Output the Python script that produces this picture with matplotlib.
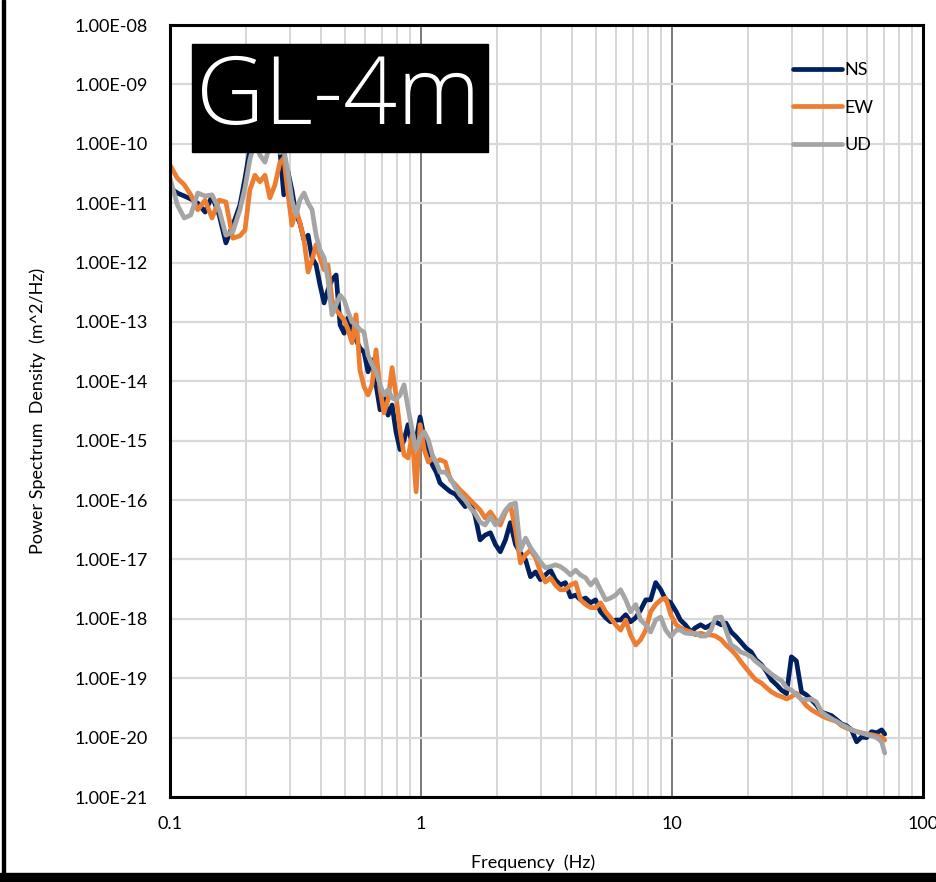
import numpy as np
import matplotlib.pyplot as plt
from matplotlib.patches import Rectangle
from matplotlib.ticker import FixedLocator, NullLocator, LogLocator

plt.rcParams['font.family'] = ['Lato', 'DejaVu Sans']

# frequency (Hz), shared by all three components
freq = [
    0.100, 0.107, 0.114, 0.121, 0.129, 0.138, 0.147, 0.157, 0.167, 0.178,
    0.190, 0.199, 0.208, 0.218, 0.228, 0.239, 0.250, 0.262, 0.274, 0.284,
    0.295, 0.306, 0.318, 0.329, 0.342, 0.355, 0.368, 0.382, 0.396, 0.411,
    0.426, 0.442, 0.459, 0.476, 0.494, 0.512, 0.531, 0.551, 0.571, 0.593,
    0.615, 0.638, 0.662, 0.687, 0.712, 0.739, 0.767, 0.795, 0.825, 0.856,
    0.888, 0.922, 0.956, 0.992, 1.03, 1.07, 1.11, 1.15, 1.19, 1.25,
    1.31, 1.37, 1.43, 1.50, 1.57, 1.64, 1.72, 1.80, 1.89, 1.98,
    2.07, 2.17, 2.27, 2.38, 2.49, 2.61, 2.73, 2.86, 2.99, 3.13,
    3.28, 3.43, 3.59, 3.76, 3.94, 4.13, 4.32, 4.53, 4.74, 4.96,
    5.19, 5.44, 5.69, 5.96, 6.24, 6.54, 6.84, 7.17, 7.50, 7.86,
    8.22, 8.61, 9.02, 9.44, 9.89, 10.4, 10.8, 11.3, 11.9, 12.4,
    13.0, 13.6, 14.3, 14.9, 15.7, 16.4, 17.2, 18.0, 18.8, 19.7,
    20.7, 21.6, 22.7, 23.8, 24.9, 26.1, 27.3, 28.6, 29.9, 31.3,
    32.8, 34.3, 35.9, 37.6, 39.4, 41.3, 43.2, 45.3, 47.4, 49.6,
    51.9, 54.4, 56.9, 59.6, 62.4, 65.4, 68.4, 70.4,
]

# log10 of power spectrum density (m^2/Hz)
ns_log = [
    -10.74, -10.83, -10.88, -10.93, -11.00, -11.15, -10.88, -11.20, -11.67, -11.37,
    -11.03, -10.58, -10.10, -9.73, -9.63, -9.85, -9.77, -9.94, -10.10, -10.86,
    -10.47, -10.78, -11.20, -11.33, -11.62, -11.54, -11.92, -12.04, -12.38, -12.68,
    -12.46, -12.29, -12.21, -13.05, -13.19, -12.93, -13.13, -13.30, -13.44, -13.51,
    -13.84, -13.64, -14.06, -14.48, -14.28, -14.57, -14.40, -14.85, -15.15, -14.99,
    -14.73, -15.07, -14.99, -14.60, -14.95, -15.24, -15.41, -15.53, -15.71, -15.79,
    -15.86, -15.90, -16.00, -16.11, -16.05, -16.25, -16.67, -16.59, -16.55, -16.75,
    -16.87, -16.67, -16.38, -16.75, -16.89, -17.01, -17.29, -17.21, -17.34, -17.26,
    -17.18, -17.34, -17.43, -17.39, -17.63, -17.60, -17.68, -17.65, -17.73, -17.68,
    -17.88, -17.98, -18.05, -18.02, -18.02, -17.93, -18.05, -17.98, -17.85, -17.68,
    -17.68, -17.39, -17.51, -17.68, -17.73, -17.88, -18.02, -18.10, -18.22, -18.15,
    -18.10, -18.15, -18.10, -18.05, -18.10, -18.07, -18.22, -18.30, -18.39, -18.49,
    -18.56, -18.69, -18.77, -18.89, -19.03, -19.11, -19.20, -19.26, -18.64, -18.71,
    -19.23, -19.28, -19.36, -19.45, -19.57, -19.60, -19.63, -19.70, -19.77, -19.80,
    -19.87, -20.07, -19.99, -20.00, -19.90, -19.92, -19.87, -19.94,
]

ew_log = [
    -10.36, -10.58, -10.69, -10.86, -11.11, -10.95, -11.25, -10.95, -10.98, -11.59,
    -11.55, -11.45, -10.78, -10.53, -10.64, -10.53, -10.91, -10.69, -10.32, -10.24,
    -10.83, -11.37, -11.11, -11.32, -11.62, -12.16, -11.96, -11.70, -11.92, -12.12,
    -12.04, -12.63, -12.80, -12.88, -12.97, -13.13, -13.35, -12.88, -13.81, -14.09,
    -14.23, -14.06, -13.47, -14.14, -14.53, -14.31, -13.77, -14.23, -14.82, -15.24,
    -15.29, -14.90, -15.86, -14.73, -15.15, -15.36, -15.29, -15.36, -15.32, -15.36,
    -15.66, -15.74, -15.83, -15.91, -16.00, -16.08, -16.17, -16.30, -16.20, -16.33,
    -16.42, -16.20, -16.08, -16.50, -17.06, -16.92, -16.84, -16.97, -17.21, -17.38,
    -17.31, -17.43, -17.51, -17.51, -17.43, -17.39, -17.68, -17.76, -17.81, -17.81,
    -17.73, -17.88, -17.98, -18.10, -18.19, -18.02, -18.27, -18.44, -18.35, -18.19,
    -17.88, -17.76, -17.68, -17.65, -17.93, -18.10, -18.15, -18.19, -18.22, -18.27,
    -18.24, -18.27, -18.27, -18.29, -18.35, -18.44, -18.52, -18.61, -18.72, -18.83,
    -18.94, -19.03, -19.08, -19.16, -19.23, -19.28, -19.31, -19.35, -19.31, -19.25,
    -19.36, -19.46, -19.53, -19.58, -19.63, -19.67, -19.70, -19.73, -19.80, -19.84,
    -19.87, -19.90, -19.92, -19.94, -19.95, -19.97, -19.99, -20.04,
]

ud_log = [
    -10.58, -11.03, -11.25, -11.20, -10.83, -10.88, -10.86, -11.11, -11.54, -11.48,
    -11.11, -10.74, -10.27, -9.94, -10.19, -10.31, -10.02, -9.94, -10.15, -10.10,
    -10.47, -10.95, -11.20, -10.95, -10.83, -11.00, -11.11, -11.54, -11.79, -11.92,
    -12.29, -12.88, -12.71, -12.55, -12.63, -12.83, -13.00, -13.05, -13.13, -13.17,
    -13.56, -13.72, -13.84, -14.06, -14.23, -14.14, -14.28, -14.31, -14.23, -14.06,
    -14.45, -14.82, -15.15, -14.95, -14.85, -14.99, -15.24, -15.37, -15.53, -15.53,
    -15.63, -15.79, -15.91, -16.00, -16.13, -16.22, -16.37, -16.42, -16.28, -16.42,
    -16.33, -16.17, -16.08, -16.05, -16.84, -16.64, -16.80, -16.92, -17.04, -17.14,
    -17.12, -17.09, -17.12, -17.18, -17.26, -17.18, -17.26, -17.31, -17.43, -17.34,
    -17.51, -17.68, -17.65, -17.60, -17.51, -17.68, -17.88, -17.76, -18.02, -18.10,
    -18.22, -18.02, -17.97, -18.19, -18.30, -18.19, -18.19, -18.24, -18.25, -18.24,
    -18.29, -18.29, -18.19, -17.98, -17.97, -18.19, -18.44, -18.49, -18.56, -18.59,
    -18.64, -18.72, -18.79, -18.86, -18.93, -18.99, -19.04, -19.16, -19.20, -19.28,
    -19.36, -19.36, -19.35, -19.40, -19.57, -19.63, -19.68, -19.73, -19.78, -19.82,
    -19.87, -19.90, -19.92, -19.95, -19.97, -20.00, -20.07, -20.26,
]

y_exponents = list(range(-21, -7))
x_ticks = [0.1, 1, 10, 100]
x_ticklabels = ['0.1', '1', '10', '100']

fig = plt.figure(figsize=(9.36, 8.82), dpi=100)
ax = fig.add_axes([170 / 936, 85 / 882, 753 / 936, 772 / 882])

f = np.array(freq)
for vals, col, name in [(ns_log, '#002060', 'NS'),
                        (ew_log, '#ED7D31', 'EW'),
                        (ud_log, '#A5A5A5', 'UD')]:
    ax.plot(f, 10.0 ** np.array(vals), color=col, lw=3.4, label=name,
            solid_joinstyle='round', solid_capstyle='round')

ax.set_xscale('log')
ax.set_yscale('log')
ax.set_xlim(0.1, 100)
ax.set_ylim(1e-21, 1e-8)

ax.xaxis.set_major_locator(FixedLocator(x_ticks))
ax.set_xticklabels(x_ticklabels)
ax.xaxis.set_minor_locator(LogLocator(base=10, subs=np.arange(2, 10)))
ax.xaxis.set_minor_formatter(plt.NullFormatter())
ax.yaxis.set_major_locator(FixedLocator([10.0 ** e for e in y_exponents]))
ax.set_yticklabels(['1.00E-%02d' % -e for e in y_exponents])
ax.yaxis.set_minor_locator(NullLocator())

ax.tick_params(which='both', length=0, labelsize=13)
ax.tick_params(axis='y', pad=16)
ax.tick_params(axis='x', pad=14)

ax.grid(which='major', axis='y', color='#D9D9D9', lw=1.6)
ax.grid(which='minor', axis='x', color='#D3D3D3', lw=1.3)
ax.grid(which='major', axis='x', color='#6E6E6E', lw=1.3)
ax.set_axisbelow(True)
for s in ax.spines.values():
    s.set_linewidth(2.2)
    s.set_color('black')

ax.set_xlabel('Frequency  (Hz)', fontsize=13)
ax.set_ylabel('Power Spectrum  Density  (m^2/Hz)', fontsize=13)
ax.xaxis.set_label_coords(0.482, -0.074)
ax.yaxis.set_label_coords(-0.165, 0.5)

ax.legend(loc='upper left', bbox_to_anchor=(793 / 936, 1 - 62 / 882),
          bbox_transform=fig.transFigure, frameon=False, fontsize=13,
          handlelength=2.7, handletextpad=0.15, labelspacing=1.2,
          borderpad=0, borderaxespad=0)

# title box
fig.add_artist(Rectangle((192 / 936, 1 - 152 / 882), 296 / 936, 108 / 882,
                         transform=fig.transFigure, color='black', zorder=10))
fig.text(338 / 936, 1 - 100 / 882, 'GL-4m', color='white', fontsize=68,
         family=['Open Sans', 'DejaVu Sans'], fontweight='light',
         ha='center', va='center', zorder=11)

# frame edges
fig.add_artist(Rectangle((2 / 936, 0), 3 / 936, 1, transform=fig.transFigure,
                         color='black', zorder=10))
fig.add_artist(Rectangle((0, 0), 1, 9 / 882, transform=fig.transFigure,
                         color='black', zorder=10))

fig.savefig('out.png', dpi=100)
